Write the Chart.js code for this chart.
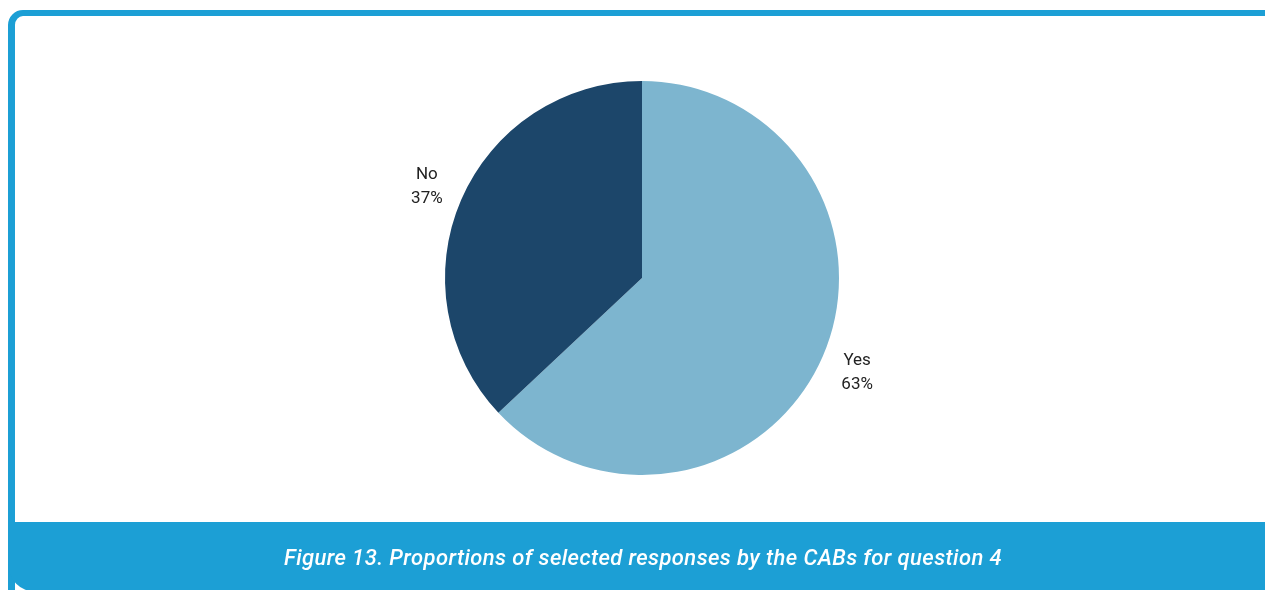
<!DOCTYPE html>
<html>
<head>
<meta charset="utf-8">
<script src="https://cdn.jsdelivr.net/npm/chart.js@4.4.1/dist/chart.umd.min.js"></script>
<style>
  html, body { margin: 0; padding: 0; background: #fff; width: 1265px; height: 590px; overflow: hidden; }
  #frame { position: absolute; left: 8px; top: 10px; width: 1320px; height: 600px; border: 7px solid #1c9fd5; border-top-width: 6px; border-top-left-radius: 15px; box-sizing: border-box; }
  #wrap { position: absolute; left: 242px; top: 0; width: 800px; height: 556px; }
  #caption { position: absolute; left: 8px; top: 522px; width: 1320px; height: 70px; background: #1c9fd5; border-bottom-left-radius: 28px; }
  #caption span { position: absolute; left: 0; width: 1270px; top: 23px; text-align: center; color: #fff; font: italic 500 22px Roboto, sans-serif; letter-spacing: 0.4px; }
</style>
</head>
<body>
<div id="frame"></div>
<div id="wrap"><canvas id="chart"></canvas></div>
<div id="caption"><span>Figure 13. Proportions of selected responses by the CABs for question 4</span></div>
<script>
var labels = ["Yes", "No"];
var values = [63, 37];
var colors = ["#7db5cf", "#1c466a"];

// labels outside the slices: name on one line, percent below
var outerLabels = {
    id: "outerLabels",
    afterDatasetsDraw: function (chart) {
        var ctx = chart.ctx, meta = chart.getDatasetMeta(0);
        var total = values.reduce(function (a, b) { return a + b; }, 0);
        ctx.save();
        ctx.font = "17px Roboto, sans-serif";
        ctx.fillStyle = "#222";
        ctx.textAlign = "center";
        ctx.textBaseline = "middle";
        meta.data.forEach(function (arc, i) {
            var mid = (arc.startAngle + arc.endAngle) / 2;
            var r = arc.outerRadius * 1.19;
            var x = arc.x + Math.cos(mid) * r, y = arc.y + Math.sin(mid) * r + 2;
            ctx.fillText(labels[i], x, y - 12);
            ctx.fillText(Math.round(values[i] / total * 100) + "%", x, y + 12);
        });
        ctx.restore();
    }
};

new Chart(document.getElementById("chart"), {
    type: "pie",
    data: {
        labels: labels,
        datasets: [{ data: values, backgroundColor: colors, borderWidth: 0 }]
    },
    options: {
        responsive: true,
        maintainAspectRatio: false,
        animation: false,
        layout: { padding: { top: 81, bottom: 81 } },
        plugins: { legend: { display: false }, tooltip: { enabled: false } }
    },
    plugins: [outerLabels]
});
</script>
</body>
</html>
